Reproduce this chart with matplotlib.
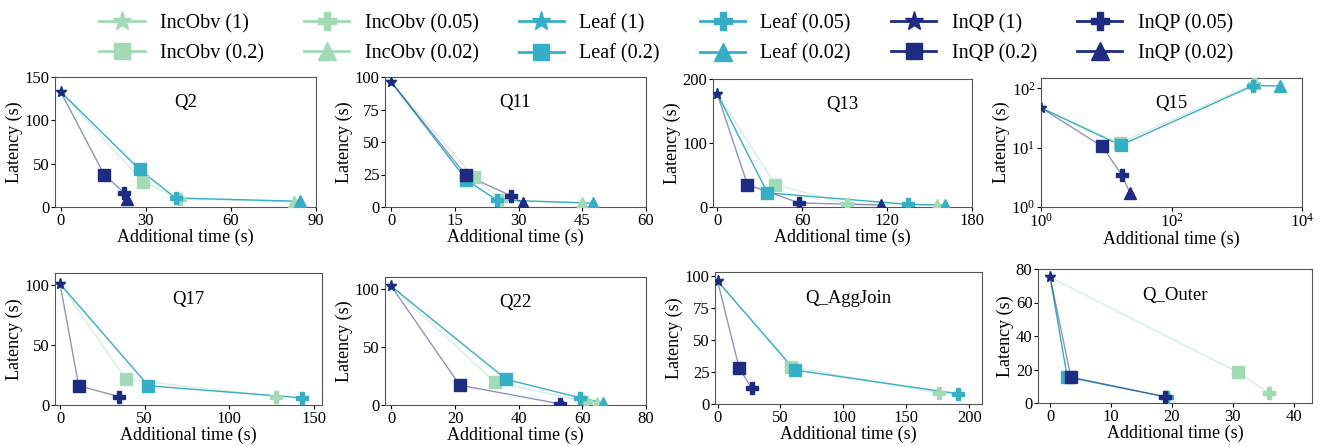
import numpy as np
import matplotlib
matplotlib.use("Agg")
import matplotlib.pyplot as plt
from matplotlib.lines import Line2D

plt.rcParams['font.family'] = ['Liberation Serif', 'DejaVu Serif']

# methods and sample fractions
methods = ['IncObv', 'Leaf', 'InQP']
fractions = ['1', '0.2', '0.05', '0.02']
colors = ['#a1dab4', '#35aec6', '#1d2c80']
line_alpha = [0.45, 1.0, 0.5]
markers = ['*', 's', 'P', '^']
msizes = [8, 8, 9, 8]

# per query: rows = IncObv, Leaf, InQP ; columns = 1, 0.2, 0.05, 0.02
q2_time = [[0, 28.9, 42.2, 82.3], [0, 27.8, 40.5, 84.4], [0, 15.3, 22.4, 23.4]]
q2_lat = [[133, 29.4, 9.3, 6.0], [133, 43.3, 10.4, 6.6], [133, 37.5, 16.2, 9.3]]

q11_time = [[0, 19.5, 25.8, 44.9], [0, 17.7, 24.8, 47.4], [0, 17.5, 28.1, 31.0]]
q11_lat = [[96, 22.8, 5.4, 3.0], [96, 20.8, 5.4, 3.0], [96, 24.6, 8.7, 3.0]]

q13_time = [[0, 41, 92, 155], [0, 35.5, 134.6, 160.7], [0, 21.3, 58, 116]]
q13_lat = [[177, 35, 5, 3], [177, 22, 4.2, 3], [177, 35, 6.3, 3]]

q15_time = [[1, 16, 1850, 1900], [1, 16.6, 1800, 4540], [1, 8.7, 17.6, 22.9]]
q15_lat = [[47, 12, 120, 125], [47, 11, 112, 110], [47, 10.5, 3.4, 1.75]]

q17_time = [[0, 39, 128], [0, 52.3, 143], [0, 11, 35]]
q17_lat = [[101, 21.4, 7], [101, 16, 6], [101, 16, 7]]

q22_time = [[0, 32.5, 61, 64.5], [0, 36.1, 59.3, 66.4], [0, 21.5, 53, 53.3]]
q22_lat = [[102, 19.8, 3, 2], [102, 22, 6.2, 2], [102, 17, 1, 0.8]]

qagg_time = [[0, 58.7, 176], [0, 61.3, 191], [0, 17.2, 27]]
qagg_lat = [[96, 29, 8.5], [96, 26.5, 8], [96, 28, 12.5]]

qouter_time = [[0, 30.8, 35.9], [0, 2.8, 19.2], [0, 3.4, 18.9]]
qouter_lat = [[75, 18.5, 6], [75, 15.5, 3.6], [75, 15.5, 3.6]]

panels = [
    ('Q2', q2_time, q2_lat, (-2, 90), [0, 30, 60, 90], (0, 150), [0, 50, 100, 150]),
    ('Q11', q11_time, q11_lat, (-1.5, 60), [0, 15, 30, 45, 60], (0, 100), [0, 25, 50, 75, 100]),
    ('Q13', q13_time, q13_lat, (-3, 180), [0, 60, 120, 180], (0, 200), [0, 100, 200]),
    ('Q15', q15_time, q15_lat, (1, 1e4), None, (1, 150), None),
    ('Q17', q17_time, q17_lat, (-3, 155), [0, 50, 100, 150], (0, 110), [0, 50, 100]),
    ('Q22', q22_time, q22_lat, (-2, 80), [0, 20, 40, 60, 80], (0, 110), [0, 50, 100]),
    ('Q_AggJoin', qagg_time, qagg_lat, (-2, 210), [0, 50, 100, 150, 200], (0, 103), [0, 25, 50, 75, 100]),
    ('Q_Outer', qouter_time, qouter_lat, (-2, 43), [0, 10, 20, 30, 40], (0, 80), [0, 20, 40, 60, 80]),
]

# axes boxes in pixels: left, top, right, bottom
boxes = [
    (55, 77, 316, 207), (385, 77, 646, 207), (713, 79, 972, 207), (1041, 78, 1302, 207),
    (55, 273, 322, 405), (385, 277, 646, 405), (715, 272, 982, 404), (1038, 269, 1312, 403),
]

W, H = 1319, 446
fig = plt.figure(figsize=(W / 100, H / 100), dpi=100)

for (name, xs, ys, xlim, xt, ylim, yt), (l, t, r, b) in zip(panels, boxes):
    ax = fig.add_axes([l / W, 1 - b / H, (r - l) / W, (b - t) / H])
    for m in range(3):
        ax.plot(xs[m], ys[m], color=colors[m], lw=1.0, alpha=line_alpha[m], zorder=2)
        for k in range(len(xs[m])):
            ax.plot(xs[m][k], ys[m][k], marker=markers[k], ms=msizes[k],
                    color=colors[m], mec=colors[m], ls='none', zorder=3)
    if name == 'Q15':
        ax.set_xscale('log')
        ax.set_yscale('log')
        ax.set_xticks([1, 100, 10000])
        ax.set_yticks([1, 10, 100])
        ax.minorticks_off()
    else:
        ax.set_xticks(xt)
        ax.set_yticks(yt)
    ax.set_xlim(xlim)
    ax.set_ylim(ylim)
    ax.text(0.5, 0.8, name, transform=ax.transAxes, ha='center', va='center', fontsize=13.5)
    ax.set_xlabel('Additional time (s)', fontsize=13, labelpad=0)
    ax.set_ylabel('Latency (s)', fontsize=13, labelpad=1)
    ax.tick_params(labelsize=12, length=3, pad=1)
    for s in ax.spines.values():
        s.set_color('#555555')

handles = []
labels = []
leg_ms = [14, 12, 13, 13]
for m in range(3):
    for k in range(4):
        handles.append(Line2D([0], [0], color=colors[m], lw=2, marker=markers[k],
                              ms=leg_ms[k], mec=colors[m]))
        labels.append(f'{methods[m]} ({fractions[k]})')

fig.legend(handles, labels, loc='upper center', bbox_to_anchor=(0.505, 1.01), ncol=6,
           frameon=False, fontsize=14.5, handlelength=2.25, columnspacing=2.0,
           labelspacing=0.55, handletextpad=0.75)

fig.savefig('out.png', dpi=100)
